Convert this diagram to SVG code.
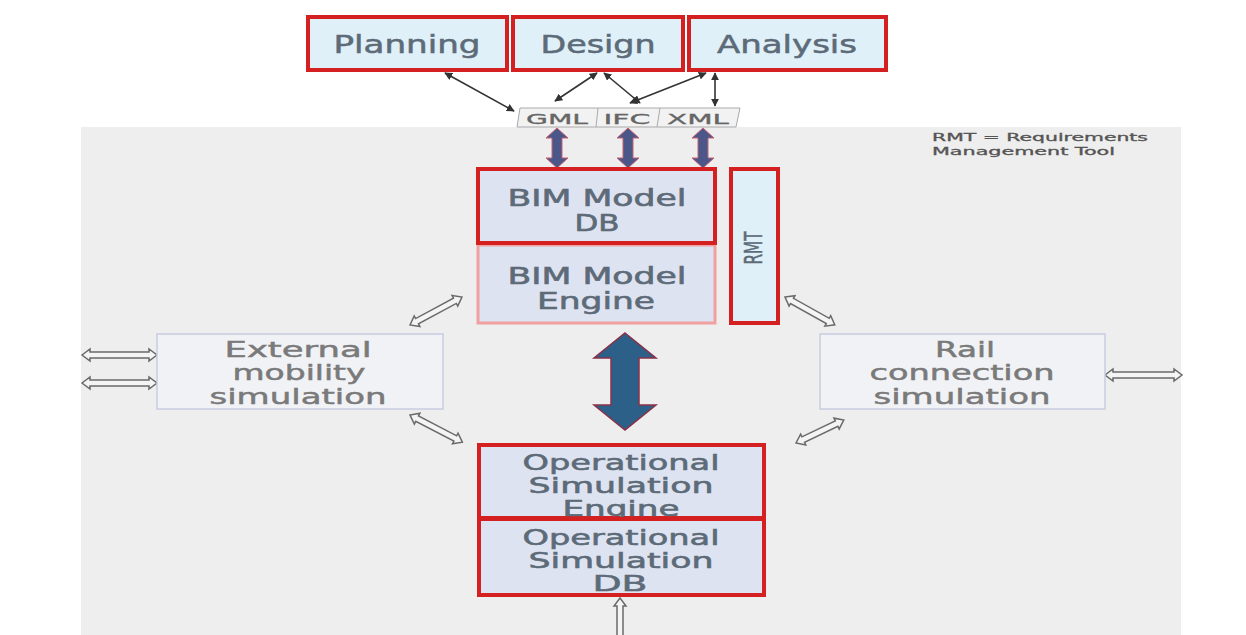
<svg xmlns="http://www.w3.org/2000/svg" width="1246" height="635" viewBox="0 0 1246 635">
<style>
.lbl{font-family:"DejaVu Sans","Verdana",sans-serif;font-size:24px;fill:#5d6b78;stroke:#5d6b78;stroke-width:0.5;text-anchor:middle}
.bimt{font-family:"DejaVu Sans","Verdana",sans-serif;font-size:22.5px;fill:#5d6b78;stroke:#5d6b78;stroke-width:0.6;text-anchor:middle}
.ops{font-family:"DejaVu Sans","Verdana",sans-serif;font-size:22px;fill:#5d6b78;stroke:#5d6b78;stroke-width:0.6;text-anchor:middle}
.sim{font-family:"DejaVu Sans","Verdana",sans-serif;font-size:22px;fill:#7a7a7a;stroke:#7a7a7a;stroke-width:0.5;text-anchor:middle}
.fmt{font-family:"DejaVu Sans","Verdana",sans-serif;font-size:14px;fill:#666;stroke:#666;stroke-width:0.3;text-anchor:middle}
.note{font-family:"DejaVu Sans","Verdana",sans-serif;font-size:10px;fill:#555;stroke:#555;stroke-width:0.3}
.top{fill:#dff0f8;stroke:#d42020;stroke-width:4}
.bim{fill:#dde3f1;stroke:#d42020;stroke-width:4}
.bimE{fill:#dde3f1;stroke:#f0a0a0;stroke-width:3}
.simbox{fill:#f1f2f6;stroke:#c8cce0;stroke-width:1.5}
.hollow{fill:#f4f4f4;stroke:#6a6a6a;stroke-width:1.5}
.thin{stroke:#333;stroke-width:1.6;fill:none;marker-start:url(#ah);marker-end:url(#ah)}
.purp{fill:#4b5788;stroke:#c86070;stroke-width:1}
</style>
<defs>
<marker id="ah" viewBox="0 0 10 10" refX="9" refY="5" markerWidth="8" markerHeight="8" orient="auto-start-reverse" markerUnits="userSpaceOnUse">
<path d="M0,0 L10,5 L0,10 z" fill="#333"/>
</marker>
</defs>
<rect x="0" y="0" width="1246" height="635" fill="#ffffff"/>
<rect x="81" y="127" width="1100" height="508" fill="#eeeeee"/>

<g id="connectors">
<line class="thin" x1="445" y1="73" x2="514" y2="111"/>
<line class="thin" x1="597" y1="73" x2="555" y2="101"/>
<line class="thin" x1="604" y1="73" x2="640" y2="103"/>
<line class="thin" x1="706" y1="73" x2="630" y2="103"/>
<line class="thin" x1="715" y1="73" x2="715" y2="106"/>

<polygon class="purp" points="557,128 568,138 562,138 562,158 568,158 557,168 546,158 552,158 552,138 546,138"/>
<polygon class="purp" points="628,128 639,138 633,138 633,158 639,158 628,168 617,158 623,158 623,138 617,138"/>
<polygon class="purp" points="703,128 714,138 708,138 708,158 714,158 703,168 692,158 698,158 698,138 692,138"/>

<polygon fill="#2d6088" stroke="#8a3048" stroke-width="1.5" points="625,333 656,358 639,358 639,405 656,405 625,430 594,405 611,405 611,358 594,358"/>

<g transform="translate(82,355)"><polygon class="hollow" points="0,0 8,-6 8,-3 67,-3 67,-6 75,0 67,6 67,3 8,3 8,6"/></g>
<g transform="translate(82,383)"><polygon class="hollow" points="0,0 8,-6 8,-3 67,-3 67,-6 75,0 67,6 67,3 8,3 8,6"/></g>
<g transform="translate(1105,375)"><polygon class="hollow" points="0,0 8,-6 8,-3 69,-3 69,-6 77,0 69,6 69,3 8,3 8,6"/></g>
<g transform="translate(410,325) rotate(-28.3)"><polygon class="hollow" points="0,0 8,-6 8,-3 51,-3 51,-6 59,0 51,6 51,3 8,3 8,6"/></g>
<g transform="translate(410,415) rotate(27.4)"><polygon class="hollow" points="0,0 8,-6 8,-3 51,-3 51,-6 59,0 51,6 51,3 8,3 8,6"/></g>
<g transform="translate(785,297) rotate(29.2)"><polygon class="hollow" points="0,0 8,-6 8,-3 49,-3 49,-6 57,0 49,6 49,3 8,3 8,6"/></g>
<g transform="translate(796,443) rotate(-25.6)"><polygon class="hollow" points="0,0 8,-6 8,-3 45,-3 45,-6 53,0 45,6 45,3 8,3 8,6"/></g>
<g transform="translate(620,598) rotate(90)"><polygon class="hollow" points="0,0 8,-6 8,-3 52,-3 52,-6 60,0 52,6 52,3 8,3 8,6"/></g>
</g>

<g id="planning">
<rect class="top" x="308" y="17" width="199" height="53"/>
<text class="lbl" x="407" y="53" textLength="147" lengthAdjust="spacingAndGlyphs">Planning</text>
</g>
<g id="design">
<rect class="top" x="513" y="17" width="170" height="53"/>
<text class="lbl" x="598" y="53" textLength="115" lengthAdjust="spacingAndGlyphs">Design</text>
</g>
<g id="analysis">
<rect class="top" x="689" y="17" width="197" height="53"/>
<text class="lbl" x="787" y="53" textLength="140" lengthAdjust="spacingAndGlyphs">Analysis</text>
</g>

<g id="formats">
<polygon points="520,108 740,108 736,127 517,127" fill="#f2f2f2" stroke="#aaa" stroke-width="1"/>
<line x1="598" y1="108" x2="596" y2="127" stroke="#aaa" stroke-width="1"/>
<line x1="660" y1="108" x2="657" y2="127" stroke="#aaa" stroke-width="1"/>
<text class="fmt" x="557" y="124" textLength="62" lengthAdjust="spacingAndGlyphs">GML</text>
<text class="fmt" x="627" y="124" textLength="47" lengthAdjust="spacingAndGlyphs">IFC</text>
<text class="fmt" x="698" y="124" textLength="62" lengthAdjust="spacingAndGlyphs">XML</text>
</g>

<g id="note">
<text class="note" x="932" y="141" textLength="216" lengthAdjust="spacingAndGlyphs">RMT = Requirements</text>
<text class="note" x="932" y="155" textLength="183" lengthAdjust="spacingAndGlyphs">Management Tool</text>
</g>

<g id="bim-engine">
<rect class="bimE" x="478" y="245" width="237" height="78"/>
<text class="bimt" x="597" y="284" textLength="179" lengthAdjust="spacingAndGlyphs">BIM Model</text>
<text class="bimt" x="596" y="309" textLength="118" lengthAdjust="spacingAndGlyphs">Engine</text>
</g>
<g id="bim-db">
<rect class="bim" x="478" y="169" width="237" height="74"/>
<text class="bimt" x="597" y="206" textLength="179" lengthAdjust="spacingAndGlyphs">BIM Model</text>
<text class="bimt" x="597" y="231" textLength="45" lengthAdjust="spacingAndGlyphs">DB</text>
</g>
<g id="rmt">
<rect class="top" x="731" y="169" width="47" height="154"/>
<text class="lbl" x="0" y="0" font-size="18" transform="translate(762,248) rotate(-90)" textLength="33" lengthAdjust="spacingAndGlyphs">RMT</text>
</g>

<g id="external">
<rect class="simbox" x="157" y="334" width="286" height="75"/>
<text class="sim" x="298" y="357" textLength="147" lengthAdjust="spacingAndGlyphs">External</text>
<text class="sim" x="299" y="380" textLength="133" lengthAdjust="spacingAndGlyphs">mobility</text>
<text class="sim" x="298" y="404" textLength="177" lengthAdjust="spacingAndGlyphs">simulation</text>
</g>
<g id="rail">
<rect class="simbox" x="820" y="334" width="285" height="75"/>
<text class="sim" x="965" y="357" textLength="60" lengthAdjust="spacingAndGlyphs">Rail</text>
<text class="sim" x="962" y="380" textLength="185" lengthAdjust="spacingAndGlyphs">connection</text>
<text class="sim" x="962" y="404" textLength="177" lengthAdjust="spacingAndGlyphs">simulation</text>
</g>

<g id="ops-engine">
<rect class="bim" x="479" y="445" width="285" height="73"/>
<text class="ops" x="621" y="470" textLength="197" lengthAdjust="spacingAndGlyphs">Operational</text>
<text class="ops" x="621" y="493" textLength="185" lengthAdjust="spacingAndGlyphs">Simulation</text>
<text class="ops" x="621" y="516" textLength="117" lengthAdjust="spacingAndGlyphs">Engine</text>
</g>
<g id="ops-db">
<rect class="bim" x="479" y="519" width="285" height="76"/>
<text class="ops" x="621" y="545" textLength="197" lengthAdjust="spacingAndGlyphs">Operational</text>
<text class="ops" x="621" y="568" textLength="185" lengthAdjust="spacingAndGlyphs">Simulation</text>
<text class="ops" x="620" y="591" textLength="55" lengthAdjust="spacingAndGlyphs">DB</text>
</g>
</svg>
